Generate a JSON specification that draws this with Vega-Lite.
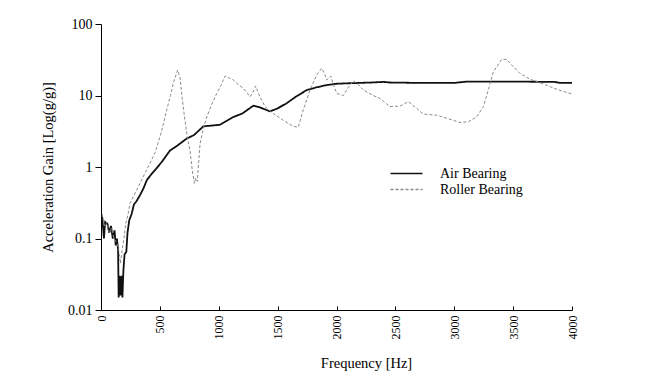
{
  "$schema": "https://vega.github.io/schema/vega-lite/v6.json",
  "width": 471,
  "height": 286,
  "autosize": "none",
  "padding": {"left": 101, "top": 24, "right": 77, "bottom": 71},
  "background": "white",
  "config": {"view": {"stroke": null}, "font": "Liberation Serif"},
  "data": {"values": [
    {"f":10,"g":0.2,"s":"Air Bearing"},{"f":25,"g":0.1,"s":"Air Bearing"},{"f":35,"g":0.17,"s":"Air Bearing"},{"f":55,"g":0.16,"s":"Air Bearing"},{"f":70,"g":0.12,"s":"Air Bearing"},{"f":85,"g":0.15,"s":"Air Bearing"},{"f":100,"g":0.1,"s":"Air Bearing"},{"f":115,"g":0.13,"s":"Air Bearing"},{"f":125,"g":0.08,"s":"Air Bearing"},{"f":135,"g":0.1,"s":"Air Bearing"},{"f":145,"g":0.07,"s":"Air Bearing"},{"f":150,"g":0.015,"s":"Air Bearing"},{"f":158,"g":0.03,"s":"Air Bearing"},{"f":165,"g":0.016,"s":"Air Bearing"},{"f":175,"g":0.03,"s":"Air Bearing"},{"f":182,"g":0.015,"s":"Air Bearing"},{"f":190,"g":0.035,"s":"Air Bearing"},{"f":200,"g":0.06,"s":"Air Bearing"},{"f":215,"g":0.065,"s":"Air Bearing"},{"f":225,"g":0.12,"s":"Air Bearing"},{"f":240,"g":0.18,"s":"Air Bearing"},{"f":260,"g":0.22,"s":"Air Bearing"},{"f":280,"g":0.3,"s":"Air Bearing"},{"f":300,"g":0.33,"s":"Air Bearing"},{"f":330,"g":0.4,"s":"Air Bearing"},{"f":360,"g":0.5,"s":"Air Bearing"},{"f":390,"g":0.66,"s":"Air Bearing"},{"f":430,"g":0.8,"s":"Air Bearing"},{"f":470,"g":0.95,"s":"Air Bearing"},{"f":520,"g":1.2,"s":"Air Bearing"},{"f":586,"g":1.7,"s":"Air Bearing"},{"f":650,"g":2.0,"s":"Air Bearing"},{"f":728,"g":2.5,"s":"Air Bearing"},{"f":790,"g":2.8,"s":"Air Bearing"},{"f":869,"g":3.7,"s":"Air Bearing"},{"f":1011,"g":3.9,"s":"Air Bearing"},{"f":1124,"g":5.0,"s":"Air Bearing"},{"f":1200,"g":5.6,"s":"Air Bearing"},{"f":1294,"g":7.2,"s":"Air Bearing"},{"f":1350,"g":6.8,"s":"Air Bearing"},{"f":1435,"g":6.0,"s":"Air Bearing"},{"f":1500,"g":6.6,"s":"Air Bearing"},{"f":1577,"g":7.8,"s":"Air Bearing"},{"f":1650,"g":9.5,"s":"Air Bearing"},{"f":1747,"g":11.9,"s":"Air Bearing"},{"f":1830,"g":13,"s":"Air Bearing"},{"f":1917,"g":14,"s":"Air Bearing"},{"f":2000,"g":14.6,"s":"Air Bearing"},{"f":2087,"g":14.8,"s":"Air Bearing"},{"f":2300,"g":15.2,"s":"Air Bearing"},{"f":2400,"g":15.5,"s":"Air Bearing"},{"f":2450,"g":15.2,"s":"Air Bearing"},{"f":2700,"g":15,"s":"Air Bearing"},{"f":3000,"g":15,"s":"Air Bearing"},{"f":3100,"g":15.6,"s":"Air Bearing"},{"f":3600,"g":15.6,"s":"Air Bearing"},{"f":3850,"g":15.5,"s":"Air Bearing"},{"f":3900,"g":15,"s":"Air Bearing"},{"f":4000,"g":15,"s":"Air Bearing"},
    {"f":10,"g":0.22,"s":"Roller Bearing"},{"f":30,"g":0.15,"s":"Roller Bearing"},{"f":50,"g":0.17,"s":"Roller Bearing"},{"f":70,"g":0.12,"s":"Roller Bearing"},{"f":90,"g":0.14,"s":"Roller Bearing"},{"f":110,"g":0.1,"s":"Roller Bearing"},{"f":130,"g":0.09,"s":"Roller Bearing"},{"f":150,"g":0.07,"s":"Roller Bearing"},{"f":165,"g":0.045,"s":"Roller Bearing"},{"f":180,"g":0.07,"s":"Roller Bearing"},{"f":195,"g":0.1,"s":"Roller Bearing"},{"f":210,"g":0.16,"s":"Roller Bearing"},{"f":230,"g":0.22,"s":"Roller Bearing"},{"f":246,"g":0.31,"s":"Roller Bearing"},{"f":280,"g":0.4,"s":"Roller Bearing"},{"f":331,"g":0.59,"s":"Roller Bearing"},{"f":370,"g":0.8,"s":"Roller Bearing"},{"f":416,"g":1.13,"s":"Roller Bearing"},{"f":460,"g":1.6,"s":"Roller Bearing"},{"f":501,"g":2.65,"s":"Roller Bearing"},{"f":530,"g":4,"s":"Roller Bearing"},{"f":558,"g":6.3,"s":"Roller Bearing"},{"f":590,"g":10,"s":"Roller Bearing"},{"f":614,"g":14.8,"s":"Roller Bearing"},{"f":651,"g":22.7,"s":"Roller Bearing"},{"f":671,"g":18,"s":"Roller Bearing"},{"f":690,"g":9,"s":"Roller Bearing"},{"f":713,"g":4.5,"s":"Roller Bearing"},{"f":735,"g":2.5,"s":"Roller Bearing"},{"f":756,"g":1.7,"s":"Roller Bearing"},{"f":775,"g":0.9,"s":"Roller Bearing"},{"f":793,"g":0.59,"s":"Roller Bearing"},{"f":805,"g":0.7,"s":"Roller Bearing"},{"f":818,"g":0.63,"s":"Roller Bearing"},{"f":830,"g":1.2,"s":"Roller Bearing"},{"f":841,"g":2.1,"s":"Roller Bearing"},{"f":870,"g":3.5,"s":"Roller Bearing"},{"f":898,"g":5.0,"s":"Roller Bearing"},{"f":940,"g":7.5,"s":"Roller Bearing"},{"f":983,"g":10.7,"s":"Roller Bearing"},{"f":1020,"g":14,"s":"Roller Bearing"},{"f":1053,"g":18.7,"s":"Roller Bearing"},{"f":1090,"g":17.5,"s":"Roller Bearing"},{"f":1124,"g":16.5,"s":"Roller Bearing"},{"f":1170,"g":14,"s":"Roller Bearing"},{"f":1209,"g":12.6,"s":"Roller Bearing"},{"f":1240,"g":11,"s":"Roller Bearing"},{"f":1265,"g":9.6,"s":"Roller Bearing"},{"f":1290,"g":11,"s":"Roller Bearing"},{"f":1313,"g":13.6,"s":"Roller Bearing"},{"f":1335,"g":11,"s":"Roller Bearing"},{"f":1350,"g":9.6,"s":"Roller Bearing"},{"f":1393,"g":7.0,"s":"Roller Bearing"},{"f":1463,"g":5.6,"s":"Roller Bearing"},{"f":1548,"g":4.5,"s":"Roller Bearing"},{"f":1633,"g":3.7,"s":"Roller Bearing"},{"f":1675,"g":3.6,"s":"Roller Bearing"},{"f":1718,"g":6.3,"s":"Roller Bearing"},{"f":1775,"g":11.9,"s":"Roller Bearing"},{"f":1832,"g":19.4,"s":"Roller Bearing"},{"f":1874,"g":24,"s":"Roller Bearing"},{"f":1900,"g":20,"s":"Roller Bearing"},{"f":1917,"g":16.5,"s":"Roller Bearing"},{"f":1951,"g":18.7,"s":"Roller Bearing"},{"f":1975,"g":14,"s":"Roller Bearing"},{"f":2002,"g":10.7,"s":"Roller Bearing"},{"f":2058,"g":10,"s":"Roller Bearing"},{"f":2100,"g":13,"s":"Roller Bearing"},{"f":2143,"g":16.1,"s":"Roller Bearing"},{"f":2190,"g":14,"s":"Roller Bearing"},{"f":2228,"g":11.9,"s":"Roller Bearing"},{"f":2313,"g":10,"s":"Roller Bearing"},{"f":2369,"g":9.1,"s":"Roller Bearing"},{"f":2454,"g":7.0,"s":"Roller Bearing"},{"f":2539,"g":7.1,"s":"Roller Bearing"},{"f":2610,"g":8.2,"s":"Roller Bearing"},{"f":2681,"g":6.6,"s":"Roller Bearing"},{"f":2737,"g":5.5,"s":"Roller Bearing"},{"f":2851,"g":5.3,"s":"Roller Bearing"},{"f":2936,"g":4.8,"s":"Roller Bearing"},{"f":3049,"g":4.2,"s":"Roller Bearing"},{"f":3120,"g":4.3,"s":"Roller Bearing"},{"f":3190,"g":5.0,"s":"Roller Bearing"},{"f":3247,"g":7.0,"s":"Roller Bearing"},{"f":3289,"g":11.9,"s":"Roller Bearing"},{"f":3332,"g":21.5,"s":"Roller Bearing"},{"f":3403,"g":32,"s":"Roller Bearing"},{"f":3445,"g":32,"s":"Roller Bearing"},{"f":3488,"g":26.7,"s":"Roller Bearing"},{"f":3558,"g":20.4,"s":"Roller Bearing"},{"f":3643,"g":16.9,"s":"Roller Bearing"},{"f":3757,"g":14.5,"s":"Roller Bearing"},{"f":3870,"g":12.2,"s":"Roller Bearing"},{"f":3983,"g":10.7,"s":"Roller Bearing"},{"f":4000,"g":10.5,"s":"Roller Bearing"}
  ]},
  "mark": {"type": "line", "interpolate": "linear"},
  "encoding": {
    "x": {
      "field": "f", "type": "quantitative",
      "scale": {"domain": [0, 4000], "nice": false},
      "axis": {
        "title": "Frequency [Hz]", "values": [0,500,1000,1500,2000,2500,3000,3500,4000], "format": "d",
        "grid": false, "labelAngle": 270, "labelAlign": "right", "labelBaseline": "middle",
        "tickSize": -4, "labelPadding": 9, "labelFlush": false,
        "domainColor": "#000", "tickColor": "#000", "labelColor": "#000", "titleColor": "#000",
        "labelFont": "Liberation Serif", "labelFontSize": 12,
        "titleFont": "Liberation Serif", "titleFontSize": 14.5, "titleFontWeight": "normal",
        "titlePadding": 17, "titleX": 265
      }
    },
    "y": {
      "field": "g", "type": "quantitative",
      "scale": {"type": "log", "domain": [0.01, 100], "nice": false},
      "axis": {
        "title": "Acceleration Gain [Log(g/g)]", "values": [0.01,0.1,1,10,100], "format": "~g",
        "grid": false, "tickSize": 6, "labelPadding": 3, "labelFlush": false,
        "domainColor": "#000", "tickColor": "#000", "labelColor": "#000", "titleColor": "#000",
        "labelFont": "Liberation Serif", "labelFontSize": 14,
        "titleFont": "Liberation Serif", "titleFontSize": 14.5, "titleFontWeight": "normal",
        "titlePadding": 12
      }
    },
    "color": {
      "field": "s", "type": "nominal",
      "scale": {"domain": ["Air Bearing", "Roller Bearing"], "range": ["#111111", "#8a8a8a"]},
      "legend": {
        "title": null, "orient": "none", "legendX": 297, "legendY": 141,
        "symbolType": "M-2.13,0H2.13", "symbolSize": 225, "symbolStrokeWidth": 1.5,
        "symbolFillColor": "transparent",
        "labelFont": "Liberation Serif", "labelFontSize": 14, "labelColor": "#000",
        "labelOffset": 25, "rowPadding": 0
      }
    },
    "strokeDash": {
      "field": "s", "type": "nominal",
      "scale": {"domain": ["Air Bearing", "Roller Bearing"], "range": [[1, 0], [3, 2]]},
      "legend": null
    },
    "strokeWidth": {
      "condition": {"test": "datum.s === 'Air Bearing'", "value": 1.8},
      "value": 1
    }
  }
}
